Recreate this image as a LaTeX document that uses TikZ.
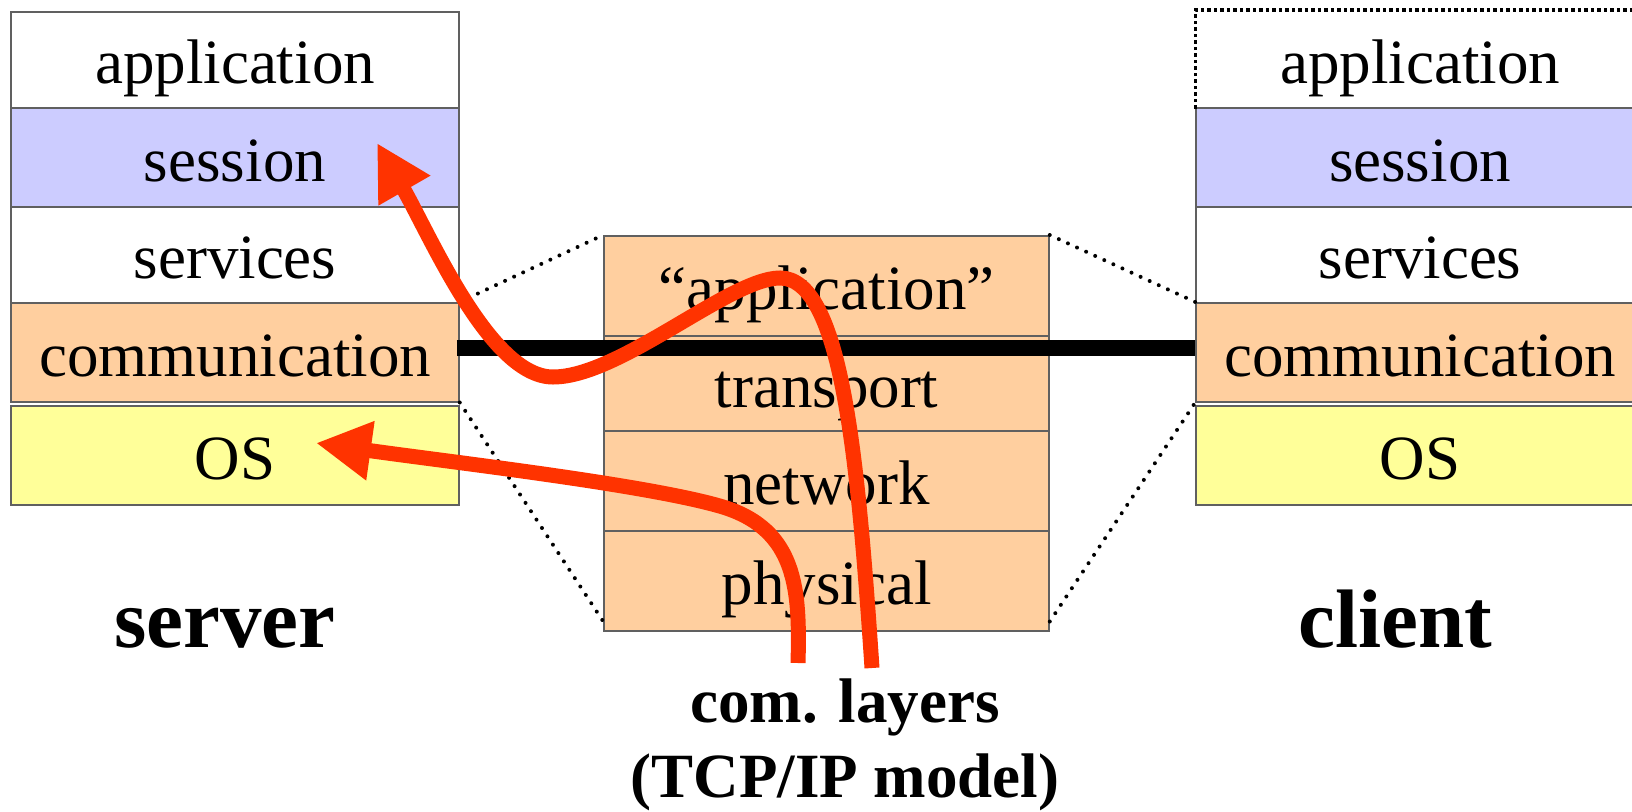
\documentclass[tikz,border=0pt]{standalone}
\usepackage{fontspec}
\setmainfont{Liberation Serif}
\usetikzlibrary{arrows.meta}
\definecolor{lav}{HTML}{CCCCFF}
\definecolor{peach}{HTML}{FFCF9F}
\definecolor{paleyellow}{HTML}{FFFF99}
\definecolor{arrowred}{HTML}{FF3300}
\definecolor{edgegray}{HTML}{606060}

\begin{document}
\begin{tikzpicture}[x=1pt,y=-1pt,
  layer/.style={draw=edgegray, line width=1.5pt, minimum width=448pt,
    inner sep=0pt, text height=48pt, text depth=0pt, anchor=north,
    font=\fontsize{63}{70}\selectfont},
  midlayer/.style={layer, fill=peach, minimum width=445pt},
  dotborder/.style={line width=3.5pt, dash pattern=on 3.5pt off 3pt},
  zoomline/.style={line width=4pt, line cap=round, dash pattern=on 0pt off 10pt},
  bar/.style={line width=16pt},
  redarrow/.style={draw=arrowred, line width=15pt,
    -{Triangle[length=55pt,width=56pt]}},
  biglabel/.style={anchor=base, inner sep=0pt, font=\bfseries\fontsize{83}{90}\selectfont},
  midlabel/.style={anchor=base, inner sep=0pt, font=\bfseries\fontsize{63}{70}\selectfont}]

\useasboundingbox[fill=white] (0,0) rectangle (1632,811);
\clip (0,0) rectangle (1632,811);

% server stack
\node[layer, fill=white, minimum height=96pt] (sapp) at (235,11) {application};
\node[layer, fill=lav, minimum height=99pt] (ssess) at (235,107) {session};
\node[layer, fill=white, minimum height=96pt] (sserv) at (235,206) {services};
\node[layer, fill=peach, minimum height=99pt] (scomm) at (235,302) {communication};
\node[layer, fill=paleyellow, minimum height=99pt] (sos) at (235,405) {OS};

% client stack
\node[layer, draw=none, fill=white, minimum height=97pt] (capp) at (1420,10) {application};
\node[layer, fill=lav, minimum height=99pt] (csess) at (1420,107) {session};
\node[layer, fill=white, minimum height=96pt] (cserv) at (1420,206) {services};
\node[layer, fill=peach, minimum height=99pt] (ccomm) at (1420,302) {communication};
\node[layer, fill=paleyellow, minimum height=99pt] (cos) at (1420,405) {OS};
\draw[dotborder] (capp.south west) -- (capp.north west) -- (capp.north east);

% communication layers (TCP/IP)
\node[midlayer, minimum height=100pt] (mapp) at (826.5,235) {``application''};
\node[midlayer, minimum height=95pt] (mtrans) at (826.5,335) {transport};
\node[midlayer, minimum height=100pt] (mnet) at (826.5,430) {network};
\node[midlayer, minimum height=100pt] (mphys) at (826.5,530) {physical};

% zoom lines from the communication layers
\draw[zoomline] (scomm.north east) -- (mapp.north west);
\draw[zoomline] (scomm.south east) -- ([yshift=10pt]mphys.south west);
\draw[zoomline] (mapp.north east) -- (ccomm.north west);
\draw[zoomline] ([yshift=10pt]mphys.south east) -- (ccomm.south west);

% connection between the two hosts
\draw[bar] ([xshift=-3pt,yshift=4pt]scomm.east) -- ([yshift=4pt]ccomm.west);

% red arrows
\coordinate (src1) at (872,668);
\coordinate (tip1) at (377,143);
\coordinate (src2) at (798,663);
\coordinate (tip2) at (316,443);
\draw[redarrow] (src1) .. controls (858,460) and (842,278) .. (780,278)
  .. controls (730,278) and (620,377) .. (553,377)
  .. controls (490,377) and (430,235) .. (tip1);
\draw[redarrow] (src2) .. controls (800,590) and (797,530) .. (723,507)
  .. controls (650,485) and (450,462) .. (tip2);

% labels
\node[biglabel] (server) at (225,647) {server};
\node[biglabel] (client) at (1395,647) {client};
\node[midlabel] (comlayers) at (845,722) {com. layers};
\node[midlabel] (tcpip) at (845,797) {(TCP/IP model)};
\end{tikzpicture}
\end{document}
